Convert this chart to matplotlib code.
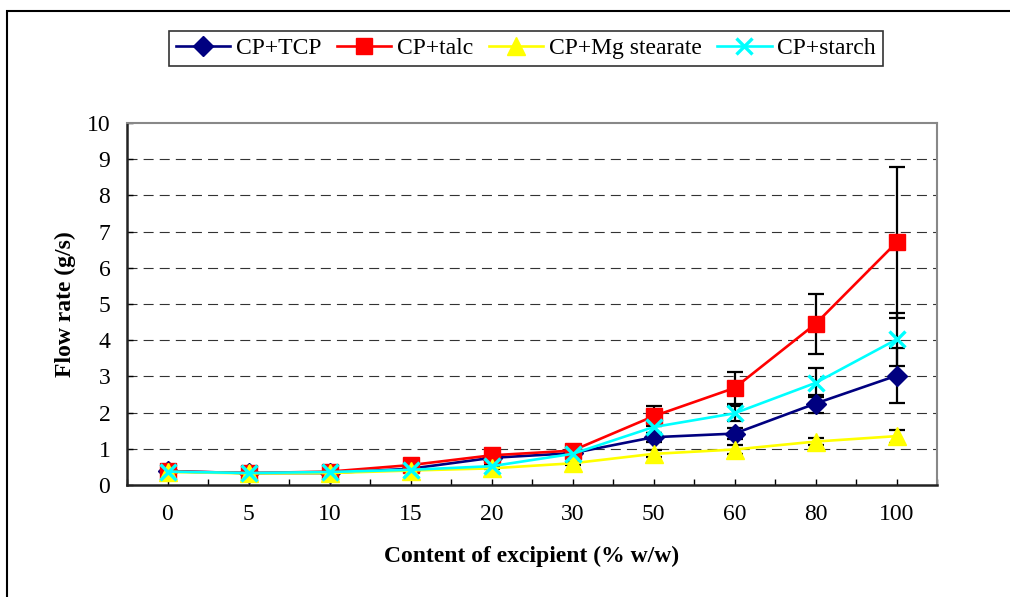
import matplotlib
matplotlib.use("Agg")
import matplotlib.pyplot as plt
from matplotlib.patches import Rectangle
import numpy as np

plt.rcParams['font.family'] = ['Liberation Serif', 'DejaVu Serif']

# data
categories = ['0', '5', '10', '15', '20', '30', '50', '60', '80', '100']
tcp = [0.38, 0.33, 0.33, 0.45, 0.75, 0.88, 1.32, 1.42, 2.25, 3.02]
tcp_err = [0.02, 0.02, 0.02, 0.03, 0.05, 0.05, 0.12, 0.15, 0.25, 0.76]
talc = [0.38, 0.33, 0.37, 0.55, 0.82, 0.95, 1.9, 2.68, 4.45, 6.7]
talc_err = [0.03, 0.02, 0.02, 0.05, 0.05, 0.05, 0.28, 0.45, 0.82, 2.08]
mg = [0.36, 0.32, 0.33, 0.40, 0.46, 0.60, 0.86, 0.98, 1.2, 1.35]
mg_err = [0.02, 0.02, 0.02, 0.02, 0.03, 0.04, 0.1, 0.12, 0.1, 0.18]
starch = [0.37, 0.33, 0.36, 0.42, 0.52, 0.86, 1.6, 1.98, 2.82, 4.02]
starch_err = [0.02, 0.02, 0.02, 0.03, 0.04, 0.05, 0.15, 0.2, 0.4, 0.74]

fig = plt.figure(figsize=(10.10, 5.97), dpi=100)
# outer frame
fig.patches.append(Rectangle((7 / 1010, -0.1), 1.2, 1 - 11 / 597 + 0.1,
                             transform=fig.transFigure, fill=False,
                             edgecolor='black', linewidth=1.5))

ax = fig.add_axes([127 / 1010, 1 - 485 / 597, 810 / 1010, 362 / 597])
x = np.arange(len(categories))

series = [
    ('CP+TCP', tcp, tcp_err, '#000080', 'D', 10.5),
    ('CP+talc', talc, talc_err, '#ff0000', 's', 11.5),
    ('CP+Mg stearate', mg, mg_err, '#ffff00', '^', 12.5),
    ('CP+starch', starch, starch_err, '#00ffff', 'x', 12),
]
for name, y, err, col, mk, ms in series:
    ax.errorbar(x, y, yerr=err, fmt='none', ecolor='black', elinewidth=1.6,
                capsize=5.5, capthick=1.6, zorder=2.5)
for name, y, err, col, mk, ms in series:
    ax.plot(x, y, color=col, marker=mk, markersize=ms, linewidth=1.9,
            markeredgewidth=2.4 if mk == 'x' else 1, markeredgecolor=col,
            label=name, zorder=3)

ax.set_xlim(-0.5, len(categories) - 0.5)
ax.set_ylim(0, 10)
ax.set_yticks(range(0, 11))
ax.set_xticks(x)
ax.set_xticklabels(categories)
ax.set_xticks(np.arange(-0.5, len(categories)), minor=True)
ax.tick_params(axis='both', which='both', direction='in', labelsize=17,
               length=4, width=1)
ax.tick_params(axis='x', pad=14)
ax.tick_params(axis='y', pad=12)
for y in range(1, 10):
    ax.axhline(y, color='#333333', linestyle=(0, (9, 5.5)), linewidth=0.8, zorder=1)

for s in ['left', 'bottom']:
    ax.spines[s].set_color('#222222')
    ax.spines[s].set_linewidth(1.8)
for s in ['top', 'right']:
    ax.spines[s].set_color('#888888')
    ax.spines[s].set_linewidth(1.5)

ax.set_ylabel('Flow rate (g/s)', fontsize=17, fontweight='bold', labelpad=8)
ax.set_xlabel('Content of excipient (% w/w)', fontsize=17, fontweight='bold', labelpad=15)

leg = fig.legend(loc='center', bbox_to_anchor=(526 / 1010, 1 - 48.5 / 597), ncol=4,
                 fontsize=17, frameon=True, fancybox=False, edgecolor='black',
                 handlelength=2.3, columnspacing=0.65, handletextpad=0.25,
                 borderpad=0.3, borderaxespad=0)
leg.get_frame().set_linewidth(1.2)

fig.savefig('out.png', dpi=100)
